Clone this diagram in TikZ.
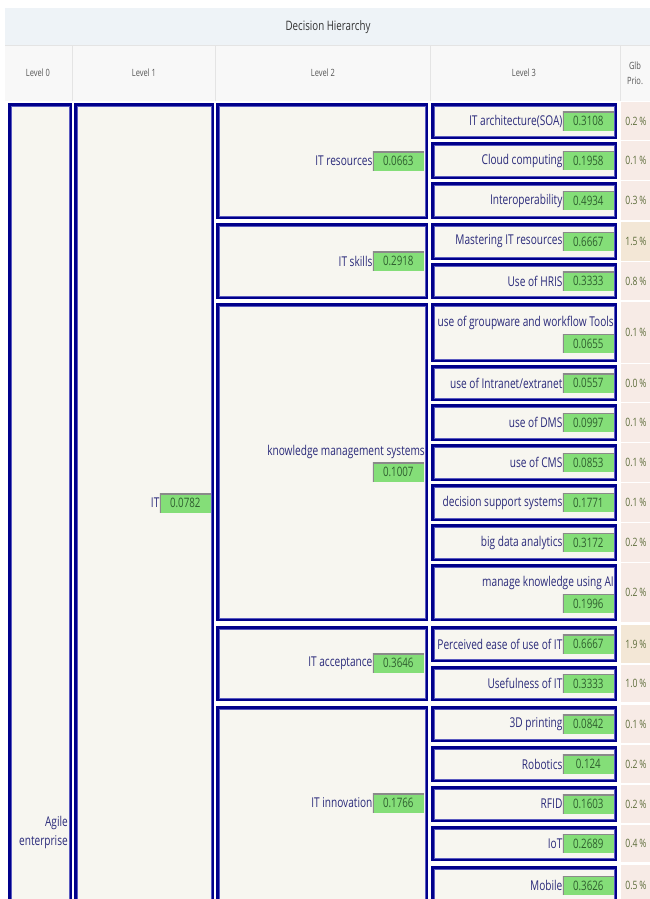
\documentclass[tikz,border=0pt]{standalone}
\usepackage{fontspec}
\setmainfont{Open Sans}[FakeStretch=0.75]
\definecolor{myNavy}{HTML}{00008B}
\definecolor{navyInner}{HTML}{5A5AC0}
\definecolor{cellbg}{HTML}{F7F6F0}
\definecolor{titlebg}{HTML}{EEF3F7}
\definecolor{headbg}{HTML}{F8F8F8}
\definecolor{seplin}{HTML}{E4E4E4}
\definecolor{pinkbg}{HTML}{F7EBE6}
\definecolor{tanbg}{HTML}{F3E7D6}
\definecolor{labcol}{HTML}{2A2A7A}
\definecolor{valtext}{HTML}{2F5F2F}
\definecolor{valfill}{HTML}{84DE78}
\definecolor{valedge}{HTML}{8A8A8A}
\definecolor{pctcol}{HTML}{5E6E3C}
\definecolor{headtext}{HTML}{555555}
\tikzset{
  cellbox/.style={draw=myNavy, line width=2.5pt, fill=cellbg},
  cellinner/.style={draw=navyInner, line width=0.6pt},
  lab/.style={font=\fontsize{13.5}{19}\selectfont, text=labcol, inner sep=0pt, anchor=east},
  valbox/.style={fill=valfill, minimum width=51pt, minimum height=19pt, inner sep=0pt,
    font=\fontsize{13}{15}\selectfont, text=valtext, anchor=east,
    path picture={\draw[valedge, line width=2.6pt]
      (path picture bounding box.south west) -- (path picture bounding box.north west)
      -- (path picture bounding box.north east);}},
  pct/.style={font=\fontsize{11.5}{13}\selectfont, text=pctcol, inner sep=0pt},
  headlab/.style={font=\fontsize{10}{12}\selectfont, text=headtext, align=center, inner sep=0pt},
}
\newcommand\mycell[4]{%
  \draw[cellbox] (#1+1.25,#2+1.25) rectangle (#3-1.25,#4-1.25);
  \draw[cellinner] (#1+2.8,#2+2.8) rectangle (#3-2.8,#4-2.8);}
\newcommand\lthree[7]{%
  \fill[#7] (621,#2-1) rectangle (650,#3+1);
  \mycell{431}{#2}{617}{#3}
  \node[valbox] (#1v) at (614,{(#2+#3)/2}) {#5};
  \node[lab] (#1) at (#1v.west) {#4};
  \node[pct] (#1p) at (636,{(#2+#3)/2}) {#6\,\%};}
\newcommand\lthreetwo[7]{%
  \fill[#7] (621,#2-1) rectangle (650,#3+1);
  \mycell{431}{#2}{617}{#3}
  \node[lab] (#1) at (614,{(#2+#3)/2-10}) {#4};
  \node[valbox] (#1v) at (614,{(#2+#3)/2+11}) {#5};
  \node[pct] (#1p) at (636,{(#2+#3)/2}) {#6\,\%};}
\begin{document}
\begin{tikzpicture}[x=1pt,y=-1pt]
\useasboundingbox (0,0) rectangle (650,899);
\clip (0,0) rectangle (650,899);
\fill[white] (0,0) rectangle (650,899);
% title band
\fill[titlebg] (5,8) rectangle (650,45);
\node[font=\fontsize{13}{15}\selectfont, text=black!80] (title) at (328,27) {Decision Hierarchy};
% header row
\fill[headbg] (5,46) rectangle (650,101);
\draw[seplin, line width=0.8pt] (5,45.5) -- (650,45.5);
\foreach \xx in {72.5,215.5,430,620} \draw[seplin, line width=0.8pt] (\xx,46) -- (\xx,101);
\node[headlab] (h0) at (38,73) {Level 0};
\node[headlab] (h1) at (144,73) {Level 1};
\node[headlab] (h2) at (323,73) {Level 2};
\node[headlab] (h3) at (524,73) {Level 3};
\node[headlab] (h4) at (635,73) {Glb\\[3pt]Prio.};
% body background
\fill[white] (5,101) rectangle (650,899);
% level 0
\mycell{8}{103}{72}{905}
\node[lab, align=right] (l0) at (68,832) {Agile\\enterprise};
% level 1
\mycell{74}{103}{214}{905}
\node[valbox] (l1v) at (211,503) {0.0782};
\node[lab] (l1) at (l1v.west) {IT};
% level 2
\mycell{216}{103}{428}{219}
\node[valbox] (a2v) at (424,161) {0.0663};
\node[lab] (a2) at (a2v.west) {IT resources};
\mycell{216}{223}{428}{299}
\node[valbox] (b2v) at (424,261) {0.2918};
\node[lab] (b2) at (b2v.west) {IT skills};
\mycell{216}{303}{428}{621}
\node[lab] (c2) at (425,452) {knowledge management systems};
\node[valbox] (c2v) at (424,472) {0.1007};
\mycell{216}{626}{428}{701}
\node[valbox] (d2v) at (424,663) {0.3646};
\node[lab] (d2) at (d2v.west) {IT acceptance};
\mycell{216}{706}{428}{905}
\node[valbox] (e2v) at (424,803) {0.1766};
\node[lab] (e2) at (e2v.west) {IT innovation};
% level 3
\lthree{r1}{103}{139}{IT architecture(SOA)}{0.3108}{0.2}{pinkbg}
\lthree{r2}{142}{179}{Cloud computing}{0.1958}{0.1}{pinkbg}
\lthree{r3}{182}{219}{Interoperability}{0.4934}{0.3}{pinkbg}
\lthree{r4}{223}{260}{Mastering IT resources}{0.6667}{1.5}{tanbg}
\lthree{r5}{263}{299}{Use of HRIS}{0.3333}{0.8}{pinkbg}
\lthreetwo{r6}{303}{362}{use of groupware and workflow Tools}{0.0655}{0.1}{pinkbg}
\lthree{r7}{365}{401}{use of Intranet/extranet}{0.0557}{0.0}{pinkbg}
\lthree{r8}{404}{441}{use of DMS}{0.0997}{0.1}{pinkbg}
\lthree{r9}{444}{481}{use of CMS}{0.0853}{0.1}{pinkbg}
\lthree{r10}{484}{521}{decision support systems}{0.1771}{0.1}{pinkbg}
\lthree{r11}{524}{561}{big data analytics}{0.3172}{0.2}{pinkbg}
\lthreetwo{r12}{564}{621}{manage knowledge using AI}{0.1996}{0.2}{pinkbg}
\lthree{r13}{626}{662}{Perceived ease of use of IT}{0.6667}{1.9}{tanbg}
\lthree{r14}{666}{701}{Usefulness of IT}{0.3333}{1.0}{pinkbg}
\lthree{r15}{706}{742}{3D printing}{0.0842}{0.1}{pinkbg}
\lthree{r16}{746}{782}{Robotics}{0.124}{0.2}{pinkbg}
\lthree{r17}{786}{822}{RFID}{0.1603}{0.2}{pinkbg}
\lthree{r18}{826}{861}{IoT}{0.2689}{0.4}{pinkbg}
\lthree{r19}{866}{905}{Mobile}{0.3626}{0.5}{pinkbg}
\end{tikzpicture}
\end{document}
